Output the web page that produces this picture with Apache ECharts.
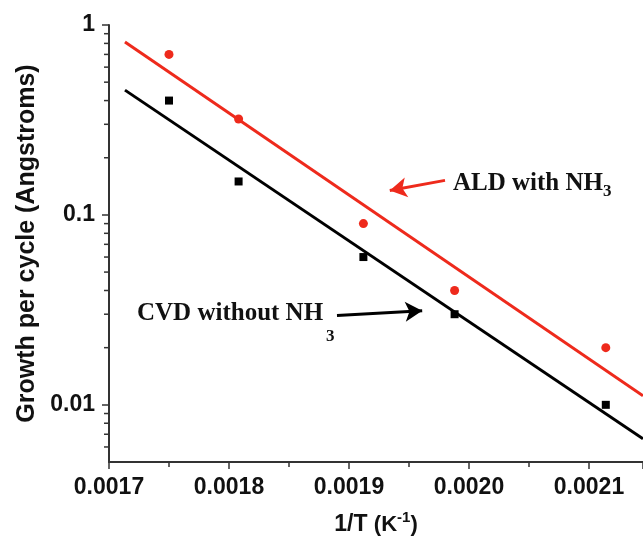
<!DOCTYPE html>
<html>
<head>
<meta charset="utf-8">
<script src="https://cdn.jsdelivr.net/npm/echarts@6/dist/echarts.min.js"></script>
<style>
  html, body { margin: 0; padding: 0; background: #fff; }
  #chart { width: 643px; height: 541px; }
</style>
</head>
<body>
<div id="chart"></div>
<script>
// 1/T (K^-1) of each run
const invT = [0.00175, 0.001808, 0.001912, 0.001988, 0.002114];
// growth per cycle (Angstroms)
const aldWithNH3 = [0.70, 0.32, 0.09, 0.04, 0.02];
const cvdWithoutNH3 = [0.40, 0.15, 0.06, 0.03, 0.01];
// fitted lines, end points
const aldFit = [[0.0017133, 0.813], [0.002145, 0.01115]];
const cvdFit = [[0.0017133, 0.454], [0.002145, 0.00662]];
// annotation arrows [from, to]
const aldArrow = [[0.00198, 0.152], [0.001934, 0.1346]];
const cvdArrow = [[0.00189, 0.0295], [0.001961, 0.0313]];
// axis ranges and log minor ticks
const xMin = 0.0017, xMax = 0.002145, xStep = 0.0001;
const yMin = 0.005, yMax = 1;
const yMinorTicks = [0.006, 0.007, 0.008, 0.009,
  0.02, 0.03, 0.04, 0.05, 0.06, 0.07, 0.08, 0.09,
  0.2, 0.3, 0.4, 0.5, 0.6, 0.7, 0.8, 0.9];

const RED = '#ee2a1c';
const AXIS = '#333';

const chart = echarts.init(document.getElementById('chart'));

function pairs(xs, ys) {
  return xs.map((x, i) => [x, ys[i]]);
}

chart.setOption({
  animation: false,
  grid: { left: 109, top: 25, right: 0, bottom: 79 },
  xAxis: {
    type: 'value',
    min: xMin, max: xMax, interval: xStep,
    name: '{a|1/T }{b|(K}{c|-1}{b|)}',
    nameLocation: 'middle',
    nameGap: 48,
    nameTextStyle: {
      rich: {
        a: { fontFamily: 'Liberation Sans', fontWeight: 'bold', fontSize: 23, color: '#111' },
        b: { fontFamily: 'Liberation Sans', fontWeight: 'bold', fontSize: 22, color: '#111' },
        c: { fontFamily: 'Liberation Sans', fontWeight: 'bold', fontSize: 15, color: '#111', padding: [0, 0, 14, 0] }
      }
    },
    axisLine: { lineStyle: { color: AXIS, width: 2 } },
    axisTick: { length: 7, lineStyle: { color: AXIS, width: 1.5 } },
    minorTick: { show: true, splitNumber: 2, length: 5, lineStyle: { color: AXIS, width: 1.5 } },
    splitLine: { show: false },
    axisLabel: {
      margin: 14,
      showMaxLabel: false,
      fontFamily: 'Liberation Sans', fontWeight: 'bold', fontSize: 23, color: '#111',
      formatter: v => v.toFixed(4)
    }
  },
  yAxis: {
    type: 'log',
    logBase: 10,
    min: yMin, max: yMax,
    name: 'Growth per cycle (Angstroms)',
    nameLocation: 'middle',
    nameGap: 58,
    nameTextStyle: { fontFamily: 'Liberation Sans', fontWeight: 'bold', fontSize: 25, color: '#111' },
    axisLine: { lineStyle: { color: AXIS, width: 2 } },
    axisTick: { length: 7, lineStyle: { color: AXIS, width: 1.5 } },
    splitLine: { show: false },
    axisLabel: {
      margin: 14,
      showMinLabel: false,
      fontFamily: 'Liberation Sans', fontWeight: 'bold', fontSize: 23, color: '#111',
      formatter: v => String(+v.toPrecision(2))
    }
  },
  graphic: [
    {
      type: 'text', left: 453, top: 171, silent: true,
      style: { text: 'ALD with NH', font: 'bold 25px "Liberation Serif"', fill: '#111' }
    },
    {
      type: 'text', left: 603, top: 183, silent: true,
      style: { text: '3', font: 'bold 17px "Liberation Serif"', fill: '#111' }
    },
    {
      type: 'text', left: 137, top: 301, silent: true,
      style: { text: 'CVD without NH', font: 'bold 25px "Liberation Serif"', fill: '#111' }
    },
    {
      type: 'text', left: 326, top: 328, silent: true,
      style: { text: '3', font: 'bold 17px "Liberation Serif"', fill: '#111' }
    }
  ],
  series: [
    {
      name: 'ALD fit', type: 'line', data: aldFit, showSymbol: false, silent: true,
      lineStyle: { color: RED, width: 3 },
      markLine: {
        silent: true, symbol: ['none', 'arrow'], symbolSize: [15, 17],
        label: { show: false },
        lineStyle: { color: RED, width: 3, type: 'solid' },
        data: [[{ coord: aldArrow[0] }, { coord: aldArrow[1] }]]
      }
    },
    {
      name: 'CVD fit', type: 'line', data: cvdFit, showSymbol: false, silent: true,
      lineStyle: { color: '#000', width: 3 },
      markLine: {
        silent: true, symbol: ['none', 'arrow'], symbolSize: [15, 17],
        label: { show: false },
        lineStyle: { color: '#000', width: 3, type: 'solid' },
        data: [[{ coord: cvdArrow[0] }, { coord: cvdArrow[1] }]]
      }
    },
    {
      name: 'ALD with NH3', type: 'scatter', data: pairs(invT, aldWithNH3),
      symbol: 'circle', symbolSize: 9, itemStyle: { color: RED, opacity: 1 }
    },
    {
      name: 'CVD without NH3', type: 'scatter', data: pairs(invT, cvdWithoutNH3),
      symbol: 'rect', symbolSize: 8, itemStyle: { color: '#000', opacity: 1 }
    },
    {
      // log-axis minor ticks, placed through the axis scale
      name: 'minor ticks', type: 'custom', silent: true, clip: false, z: 10,
      data: yMinorTicks.map(v => [xMin, v]),
      renderItem: function (params, api) {
        const p = api.coord([api.value(0), api.value(1)]);
        return {
          type: 'line',
          shape: { x1: p[0] - 5, y1: p[1], x2: p[0], y2: p[1] },
          style: { stroke: AXIS, lineWidth: 1.5 }
        };
      }
    }
  ]
});
</script>
</body>
</html>
